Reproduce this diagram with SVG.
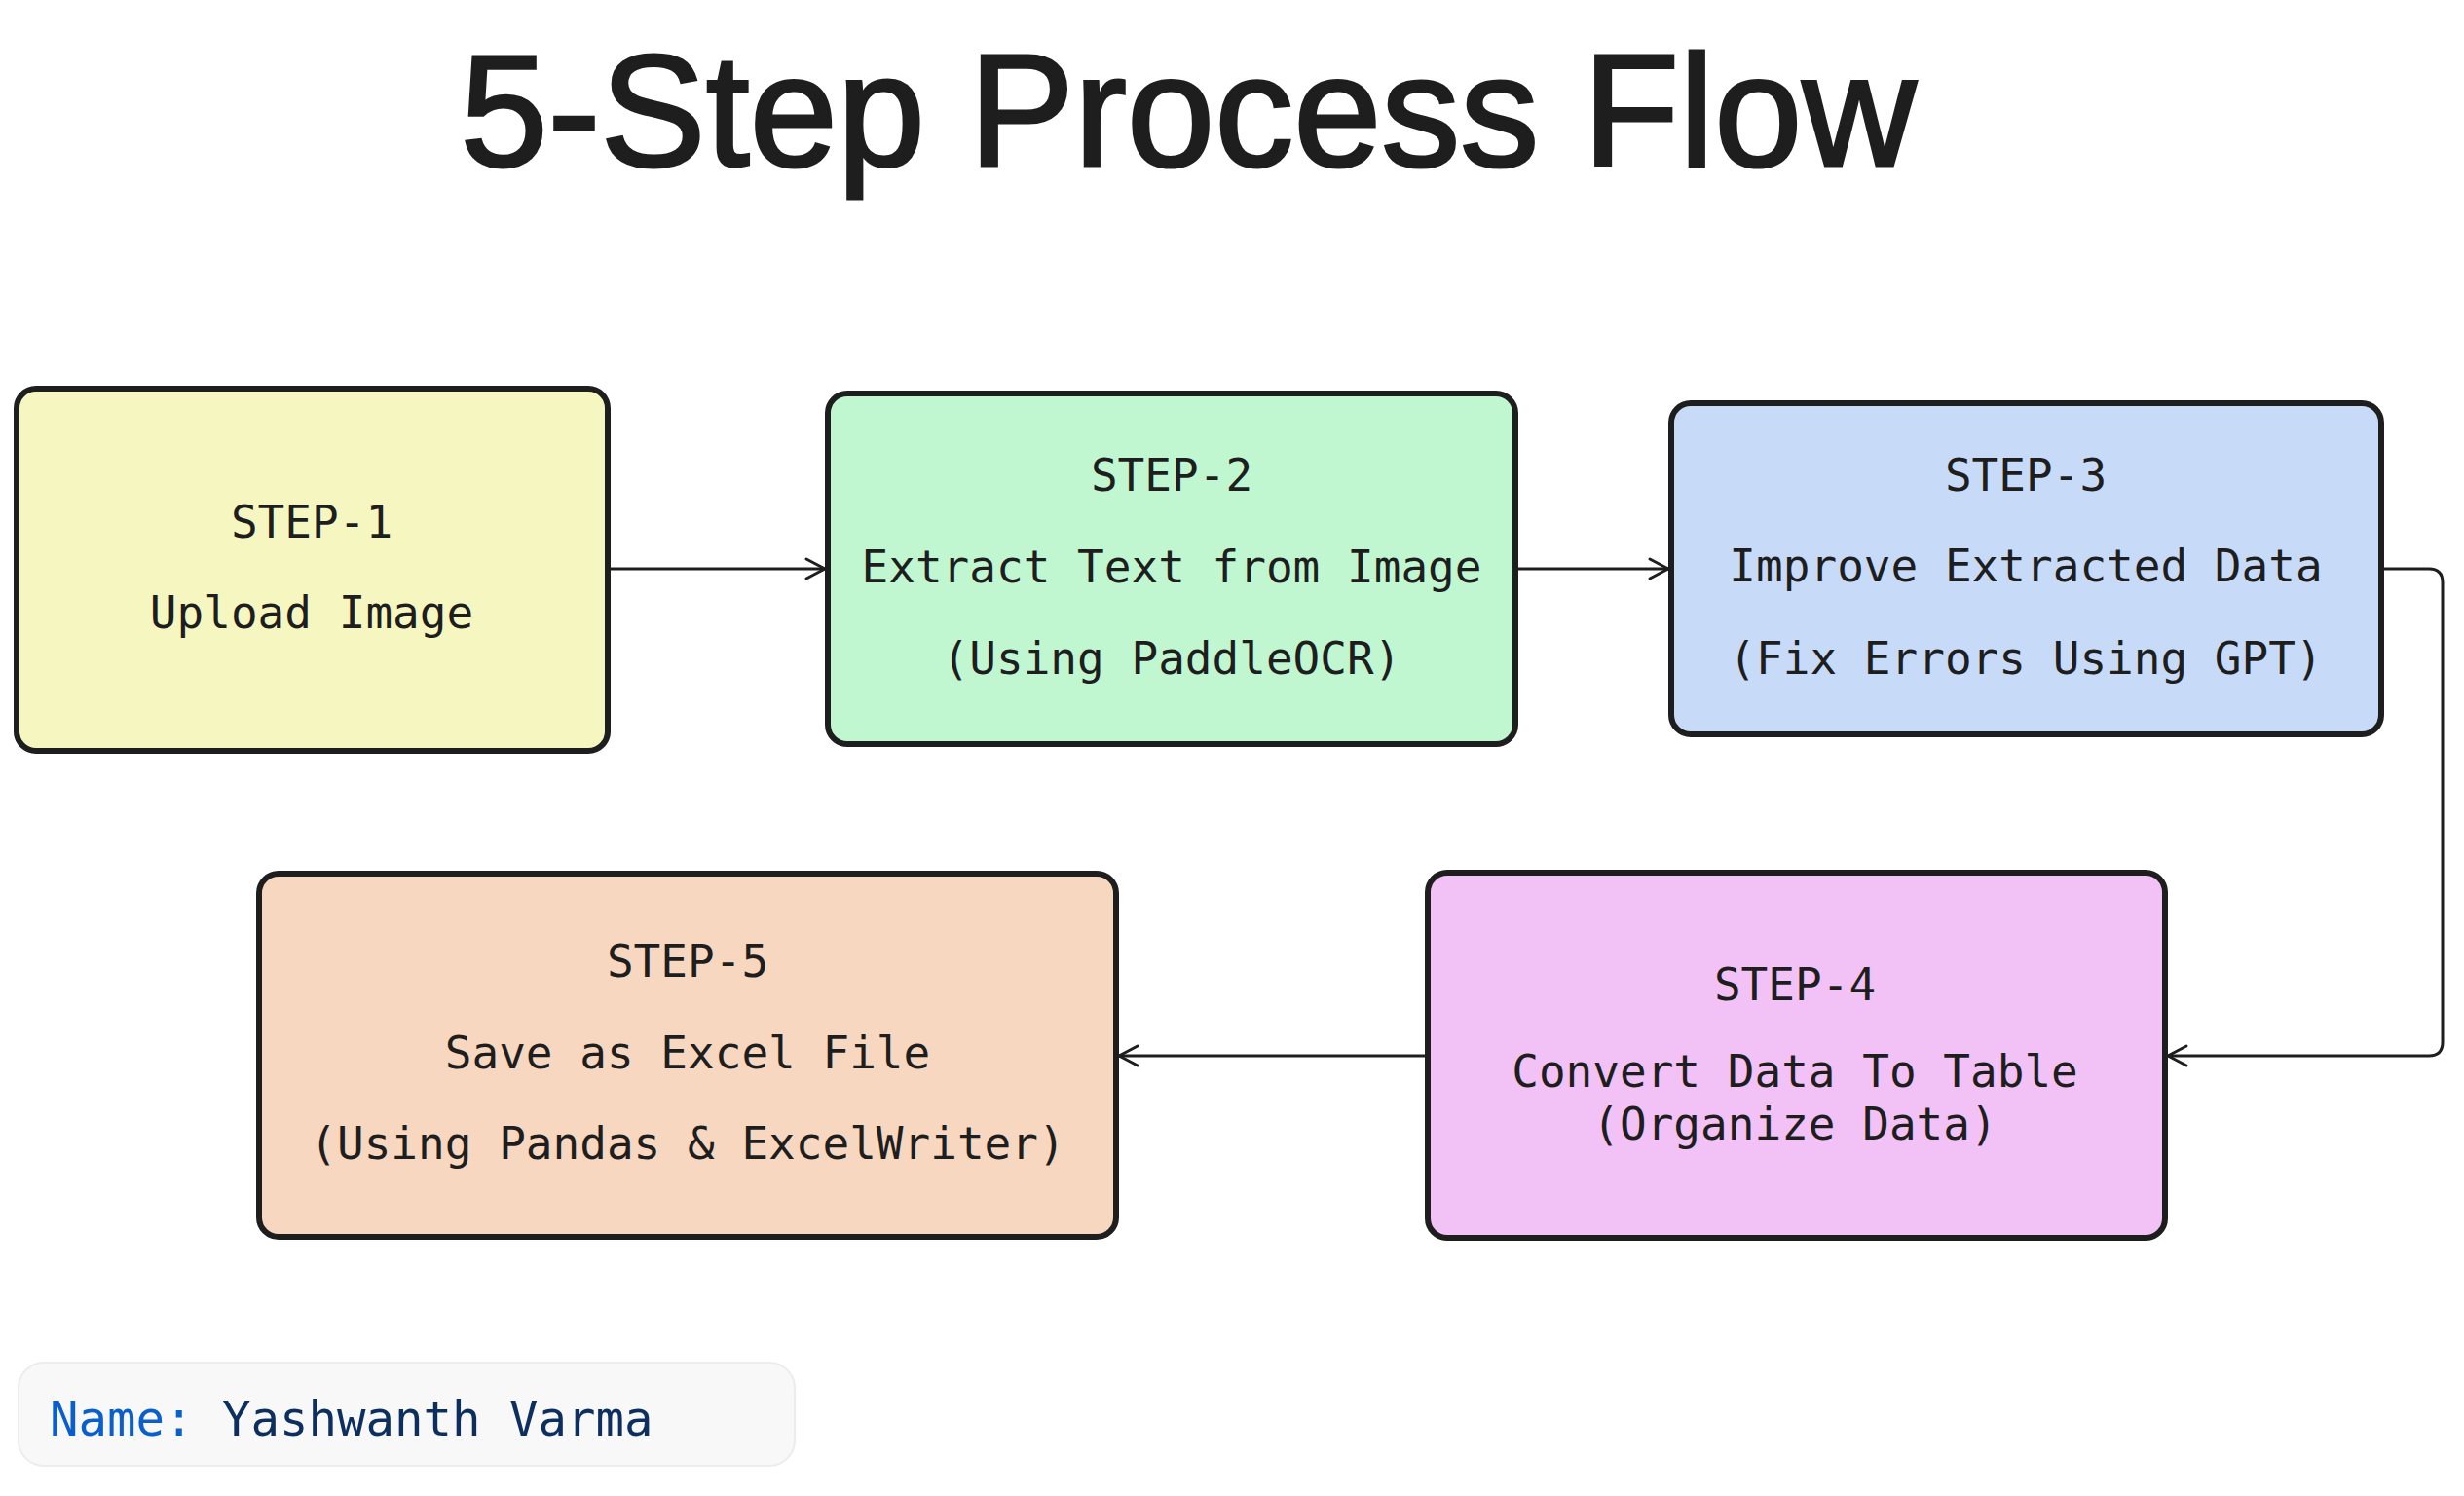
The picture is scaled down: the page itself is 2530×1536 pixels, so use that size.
<svg xmlns="http://www.w3.org/2000/svg" width="2530" height="1536" viewBox="0 0 2530 1536">
<style>
.box{stroke:#1e1e1e;stroke-width:6;stroke-linejoin:round}
.t{font-family:"DejaVu Sans Mono","Liberation Mono",monospace;font-size:46px;fill:#1e1e1e;text-anchor:middle}
.c{fill:none;stroke:#1e1e1e;stroke-width:3;stroke-linecap:round;stroke-linejoin:round}
</style>
<defs>
<marker id="ah" viewBox="0 0 26 26" refX="23" refY="13" markerWidth="26" markerHeight="26" markerUnits="userSpaceOnUse" orient="auto">
<path d="M4 3 L23 13 L4 23" fill="none" stroke="#1e1e1e" stroke-width="3" stroke-linecap="round" stroke-linejoin="round"/>
</marker>
</defs>
<rect width="2530" height="1536" fill="#ffffff"/>
<text x="1220" y="170" font-family="Liberation Sans, Arial, sans-serif" font-size="164" fill="#1e1e1e" stroke="#1e1e1e" stroke-width="3" text-anchor="middle" textLength="1495" lengthAdjust="spacingAndGlyphs">5-Step Process Flow</text>

<g id="step1">
<rect class="box" x="17" y="399" width="607" height="372" rx="20" fill="#f6f7c0"/>
<text class="t" x="320" y="552">STEP-1</text>
<text class="t" x="320" y="645">Upload Image</text>
</g>
<g id="step2">
<rect class="box" x="850" y="404" width="706" height="360" rx="20" fill="#c0f7d1"/>
<text class="t" x="1203" y="504">STEP-2</text>
<text class="t" x="1203" y="598">Extract Text from Image</text>
<text class="t" x="1203" y="692">(Using PaddleOCR)</text>
</g>
<g id="step3">
<rect class="box" x="1716" y="414" width="729" height="340" rx="20" fill="#c7dbf9"/>
<text class="t" x="2080" y="504">STEP-3</text>
<text class="t" x="2080" y="597">Improve Extracted Data</text>
<text class="t" x="2080" y="692">(Fix Errors Using GPT)</text>
</g>
<g id="step4">
<rect class="box" x="1466" y="896" width="757" height="375" rx="20" fill="#f2c1f5"/>
<text class="t" x="1843" y="1027">STEP-4</text>
<text class="t" x="1843" y="1116">Convert Data To Table</text>
<text class="t" x="1843" y="1170">(Organize Data)</text>
</g>
<g id="step5">
<rect class="box" x="266" y="897" width="880" height="373" rx="20" fill="#f7d7c0"/>
<text class="t" x="706" y="1003">STEP-5</text>
<text class="t" x="706" y="1097">Save as Excel File</text>
<text class="t" x="706" y="1190">(Using Pandas &amp; ExcelWriter)</text>
</g>
<g id="name">
<rect x="19" y="1399" width="797" height="106" rx="26" fill="#f8f8f8" stroke="#ececec" stroke-width="2"/>
<text x="51" y="1474" font-family="DejaVu Sans Mono, Liberation Mono, monospace" font-size="49"><tspan fill="#0a5fcc">Name:</tspan><tspan fill="#0d2f5f"> Yashwanth Varma</tspan></text>
</g>

<g id="connectors">
<path class="c" d="M627 584 L847 584" marker-end="url(#ah)"/>
<path class="c" d="M1559 584 L1713 584" marker-end="url(#ah)"/>
<path class="c" d="M2448 584 L2494 584 Q2508 584 2508 598 L2508 1070 Q2508 1084 2494 1084 L2226 1084" marker-end="url(#ah)"/>
<path class="c" d="M1463 1084 L1149 1084" marker-end="url(#ah)"/>
</g>
</svg>
